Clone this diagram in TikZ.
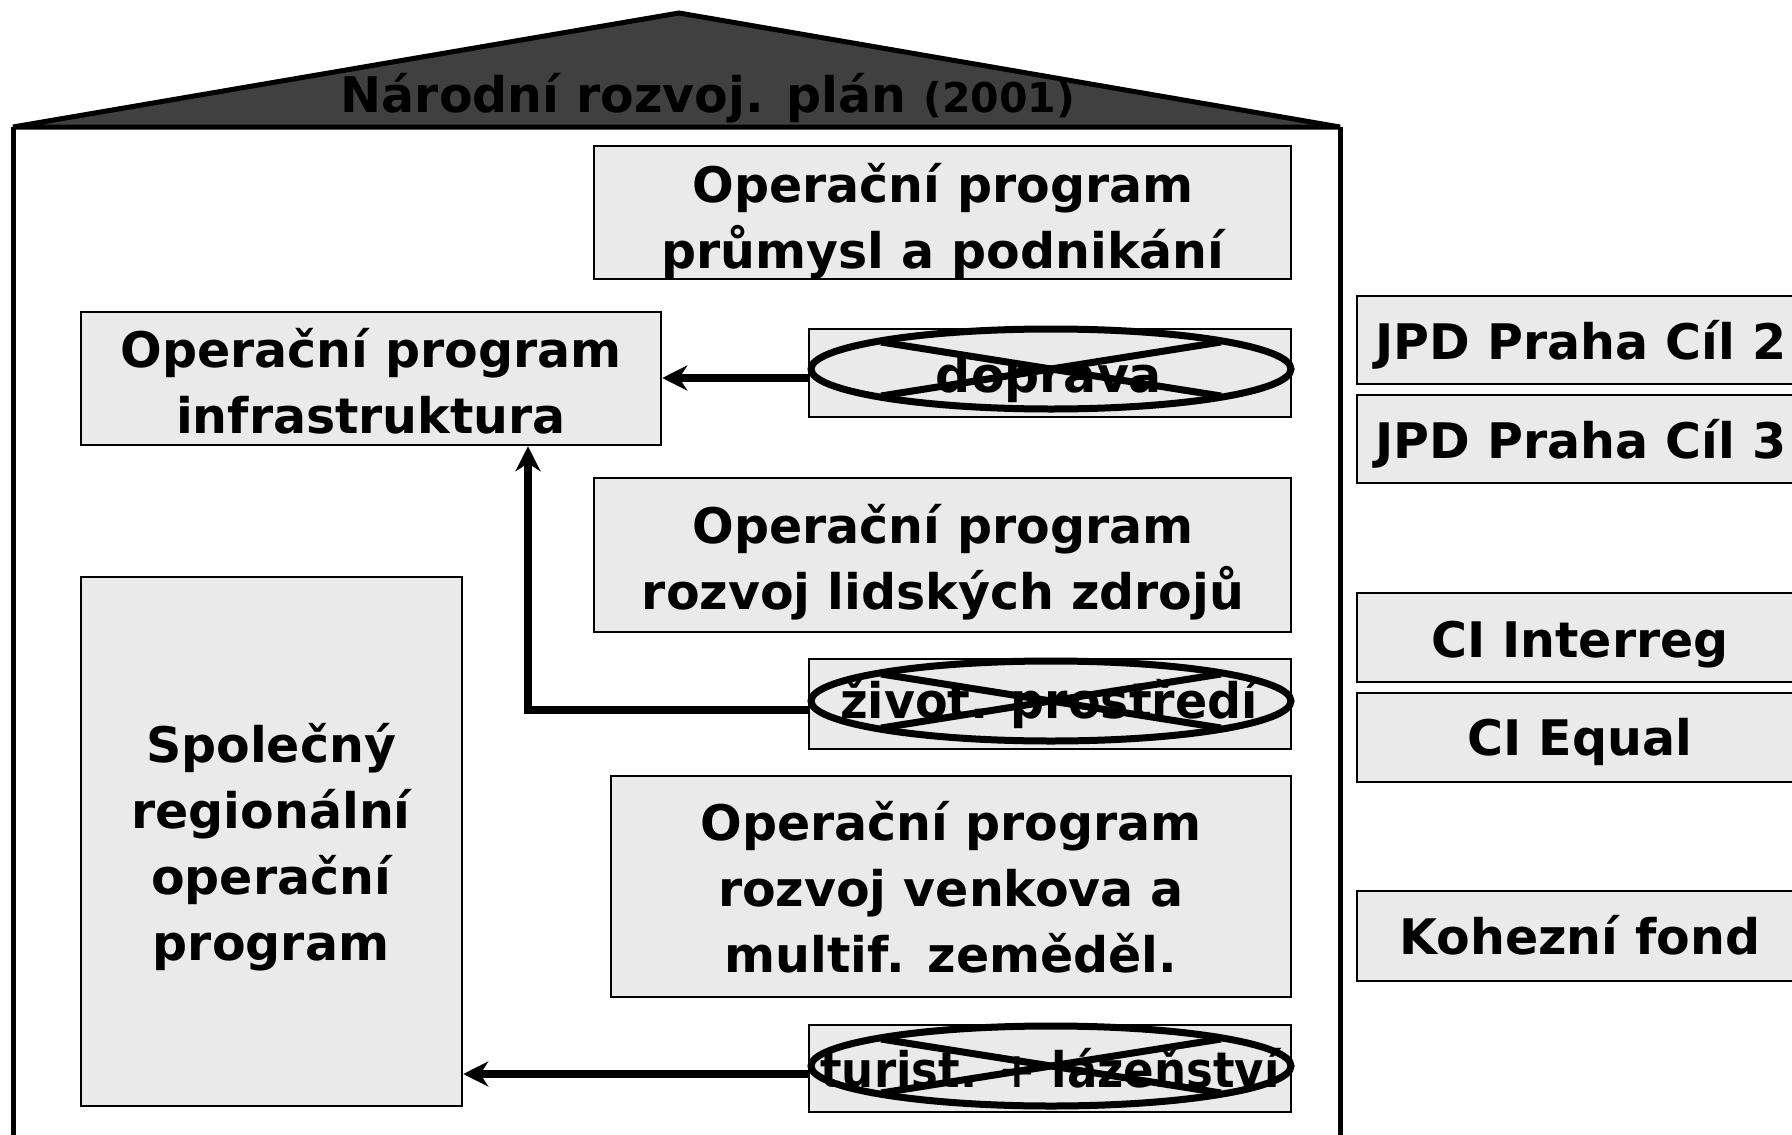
\documentclass[tikz,border=0pt]{standalone}
\usepackage{fontspec}
\usepackage{graphicx}
\setmainfont{DejaVu Sans}
\usetikzlibrary{shapes.geometric,arrows.meta,calc}
\definecolor{boxfill}{RGB}{234,234,234}
\definecolor{roofgray}{RGB}{64,64,64}
\newcommand\tstrut{\rule{0pt}{42pt}}
\tikzset{
  x=1pt,y=-1pt,
  box/.style={draw=black,fill=boxfill,line width=2.5pt,inner sep=0pt,minimum width=#1},
  txt/.style={font=\bfseries\fontsize{49}{66}\selectfont,align=center,inner sep=0pt,anchor=north},
  crossed/.style={draw=black,ellipse,line width=7pt,inner sep=0pt,minimum width=480pt,minimum height=80pt},
  xline/.style={line width=7pt},
  arr/.style={line width=7.5pt,-{Stealth[length=25pt,width=25pt,inset=8pt]}},
  wall/.style={line width=5pt}
}
\begin{document}
\begin{tikzpicture}
\useasboundingbox (0,0) rectangle (1792,1135);
% house
\coordinate (rl) at (13,127);
\coordinate (rt) at (679,13);
\coordinate (rr) at (1340,127);
\draw[wall,fill=roofgray,line join=miter] (rl) -- (rt) -- (rr) -- cycle;
\draw[wall] (rl) -- (13,1145);
\draw[wall] (rr) -- (1340,1145);
\node[font=\bfseries\fontsize{49}{49}\selectfont,anchor=base,inner sep=0pt] (title) at (708,112) {Národní rozvoj. plán {\fontsize{41}{41}\selectfont(2001)}};

% boxes
\node[box=697pt,minimum height=133pt] (b1) at (942.5,212.5) {};
\node[box=580pt,minimum height=133pt] (b2) at (371,378.5) {};
\node[box=697pt,minimum height=154pt] (b4) at (942.5,555) {};
\node[box=680pt,minimum height=221pt] (b6) at (951,886.5) {};
\node[box=381pt,minimum height=529pt] (b8) at (271.5,841.5) {};
\node[box=482pt,minimum height=88pt] (d1) at (1050,373) {};
\node[box=482pt,minimum height=90pt] (d2) at (1050,704) {};
\node[box=482pt,minimum height=87pt] (d3) at (1050,1068.5) {};
\node[box=453pt,minimum height=88pt] (r1) at (1583.5,340) {};
\node[box=453pt,minimum height=88pt] (r2) at (1583.5,439) {};
\node[box=453pt,minimum height=89pt] (r3) at (1583.5,637.5) {};
\node[box=453pt,minimum height=89pt] (r4) at (1583.5,737.5) {};
\node[box=453pt,minimum height=90pt] (r5) at (1583.5,936) {};

% texts
\node[txt] (t1) at (943,160) {\tstrut Operační program\\průmysl a podnikání};
\node[txt] (t2) at (371,325) {\tstrut Operační program\\infrastruktura};
\node[txt] (t4) at (943,501) {\tstrut Operační program\\rozvoj lidských zdrojů};
\node[txt] (t6) at (951,798) {\tstrut Operační program\\rozvoj venkova a\\multif. zeměděl.};
\node[txt] (t8) at (271,720) {\tstrut Společný\\regionální\\operační\\program};
\node[txt] (td1) at (1049,350) {\tstrut doprava};
\node[txt] (td2) at (1049,676) {\tstrut\scalebox{0.97}[1]{život. prostředí}};
\node[txt] (td3) at (1050,1045) {\tstrut\scalebox{0.92}[1]{turist. + lázeňství}};
\node[txt] (tr1) at (1581,317) {\tstrut JPD Praha Cíl 2};
\node[txt] (tr2) at (1581,416) {\tstrut JPD Praha Cíl 3};
\node[txt] (tr3) at (1580,615) {\tstrut CI Interreg};
\node[txt] (tr4) at (1580,713) {\tstrut CI Equal};
\node[txt] (tr5) at (1580,912) {\tstrut Kohezní fond};

% crossed-out ellipses
\foreach \e/\y in {e1/369,e2/701,e3/1066}{
  \node[crossed] (\e) at (1051,\y) {};
  \draw[xline] ($(\e)+(-170,-27)$) -- ($(\e)+(170,27)$);
  \draw[xline] ($(\e)+(-170,27)$) -- ($(\e)+(170,-27)$);
}

% arrows
\coordinate (a1) at ([yshift=-5pt]d1.west);
\draw[arr] (a1) -- (a1 -| b2.east);
\coordinate (a2) at ([yshift=-6pt]d2.west);
\coordinate (a2b) at ([xshift=157pt]b2.south);
\draw[arr] (a2) -| (a2b);
\coordinate (a3) at ([yshift=-5.5pt]d3.west);
\draw[arr] (a3) -- (a3 -| b8.east);
\end{tikzpicture}
\end{document}
